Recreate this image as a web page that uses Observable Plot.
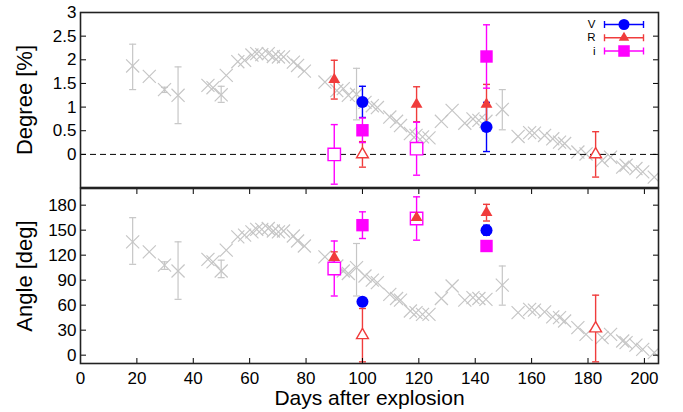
<!DOCTYPE html>
<html>
<head>
<meta charset="utf-8">
<script src="https://cdn.jsdelivr.net/npm/d3@7"></script>
<script src="https://cdn.jsdelivr.net/npm/@observablehq/plot@0.6"></script>
<style>
  body { margin: 0; background: #fff; }
  #chart { position: relative; width: 683px; height: 412px; background: #fff; }
  #chart svg { display: block; overflow: visible; }
  #legend { position: absolute; left: 580px; top: 15px; }
</style>
</head>
<body>
<div id="chart"><div id="legend"></div></div>
<script>
// ---------- data ----------
const grayDays   = [18.5, 24.4, 29.8, 34.6, 45.2, 47.0, 49.9, 51.7, 55.8, 58.2, 60.8, 62.5, 64.3, 66.6, 68.4, 70.2, 72.0, 75.5, 77.0, 79.4,
                    86.7, 90.9, 93.2, 95.0, 97.9, 100.9, 103.5, 105.3, 109.7, 112.1, 113.5, 117.0, 119.0, 121.3, 123.6, 128.0, 131.8,
                    136.3, 139.2, 141.3, 143.8, 149.6, 155.2, 159.3, 161.0, 164.6, 167.5, 169.9, 171.7, 176.4, 179.3, 185.0, 188.0,
                    192.3, 193.5, 197.0, 199.4, 203.5];
const grayDegree = [1.87, 1.65, 1.37, 1.25, 1.46, 1.41, 1.26, 1.67, 1.96, 1.99, 2.10, 2.13, 2.11, 2.13, 2.07, 2.06, 2.06, 1.95, 1.88, 1.76,
                    1.53, 1.35, 1.39, 1.25, 1.27, 1.10, 1.03, 0.99, 0.79, 0.70, 0.61, 0.44, 0.40, 0.37, 0.35, 0.70, 0.93,
                    0.66, 0.75, 0.72, 0.70, 0.95, 0.38, 0.46, 0.45, 0.40, 0.33, 0.26, 0.23, 0.05, 0.01, -0.13, -0.06,
                    -0.27, -0.23, -0.30, -0.37, -0.48];
const grayAngle  = [136, 124, 108, 101, 115, 112, 101, 126, 142, 144, 148, 151, 151, 152, 149, 148, 149, 143, 137, 131,
                    118, 107, 101, 98, 105, 95, 90, 87, 73, 68, 66, 53, 51, 49, 49, 68, 83,
                    66, 69, 68, 67, 84, 51, 55, 54, 52, 46, 45, 41, 33, 25, 21, 25,
                    17, 15, 12, 7, 3];

const grayErrDays      = [18.5, 29.8, 34.6, 49.9, 97.9, 149.6];
const grayErrDegLow    = [1.37, 1.31, 0.65, 1.10, 0.73, 0.52];
const grayErrDegHigh   = [2.33, 1.42, 1.85, 1.44, 1.82, 1.37];
const grayErrAngLow    = [109, 103, 67, 93, 71, 60];
const grayErrAngHigh   = [165, 112, 136, 114, 134, 107];

// filled symbols
const vDays = [100, 144],        vDegree = [1.11, 0.58],       vDegreeErr = [0.33, 0.52],       vAngle = [64, 150],       vAngleErr = [5, 6];
const rDays = [90, 119.2, 144],  rDegree = [1.58, 1.06, 1.06], rDegreeErr = [0.41, 0.37, 0.42], rAngle = [117, 165, 171], rAngleErr = [7, 5, 10];
const iDays = [100, 144],        iDegree = [0.51, 2.07],       iDegreeErr = [0.26, 0.67],       iAngle = [156, 131],      iAngleErr = [16, 4];
// open symbols
const rOpenDays = [100, 182.7],  rOpenDegree = [0, 0],         rOpenDegreeErr = [0.27, 0.48],   rOpenAngle = [24, 32],    rOpenAngleErr = [32, 40];
const iOpenDays = [90, 119.2],   iOpenDegree = [0, 0.12],      iOpenDegreeErr = [0.63, 0.56],   iOpenAngle = [104, 164],  iOpenAngleErr = [33, 26];

const bands = ["V", "R", "i"];
const degreeTicks = [0, 0.5, 1, 1.5, 2, 2.5, 3];
const angleTicks = [0, 30, 60, 90, 120, 150, 180];
const dayTicks = [0, 20, 40, 60, 80, 100, 120, 140, 160, 180, 200];

// ---------- styling ----------
const GRAY = "#c6c6c6";
const COLORS = {V: "#0000ff", R: "#f03c3c", i: "#ff00ff"};
const SYMBOLS = {V: "circle", R: "triangle", i: "square"};
const RADII = {V: 6, R: 4.4, i: 7};
const FONT = "'Liberation Sans', Arial, Helvetica, sans-serif";

const capH = {draw(ctx) { ctx.moveTo(-3.5, 0); ctx.lineTo(3.5, 0); }};
const capV = {draw(ctx) { ctx.moveTo(0, -3.5); ctx.lineTo(0, 3.5); }};

function series(band, filled, days, deg, degErr, ang, angErr) {
  return days.map((d, k) => ({band, filled, day: d, deg: deg[k], degErr: degErr[k], ang: ang[k], angErr: angErr[k]}));
}
const points = [
  ...series("V", true, vDays, vDegree, vDegreeErr, vAngle, vAngleErr),
  ...series("R", true, rDays, rDegree, rDegreeErr, rAngle, rAngleErr),
  ...series("i", true, iDays, iDegree, iDegreeErr, iAngle, iAngleErr),
  ...series("R", false, rOpenDays, rOpenDegree, rOpenDegreeErr, rOpenAngle, rOpenAngleErr),
  ...series("i", false, iOpenDays, iOpenDegree, iOpenDegreeErr, iOpenAngle, iOpenAngleErr)
];

function panel(o) {
  const gray = grayDays.map((d, k) => ({day: d, v: o.grayY[k]}));
  const grayErr = grayErrDays.map((d, k) => ({day: d, lo: o.errLo[k], hi: o.errHi[k]}));
  const pts = points.map(p => ({...p, v: p[o.key], lo: p[o.key] - p[o.errKey], hi: p[o.key] + p[o.errKey]}));
  const marks = [];
  marks.push(Plot.ruleX(grayErr, {x: "day", y1: "lo", y2: "hi", stroke: GRAY, strokeWidth: 1.2, clip: true}));
  marks.push(Plot.dot(grayErr, {x: "day", y: "lo", symbol: capH, stroke: GRAY, strokeWidth: 1.2, clip: true}));
  marks.push(Plot.dot(grayErr, {x: "day", y: "hi", symbol: capH, stroke: GRAY, strokeWidth: 1.2, clip: true}));
  marks.push(Plot.dot(gray, {x: "day", y: "v", symbol: "times", r: 6, stroke: GRAY, strokeWidth: 1.2, clip: true}));
  if (o.dashed) marks.push(Plot.ruleY([0], {stroke: "#000", strokeWidth: 1, strokeDasharray: "6,4"}));
  for (const b of bands) {
    const sub = pts.filter(p => p.band === b);
    marks.push(Plot.ruleX(sub, {x: "day", y1: "lo", y2: "hi", stroke: COLORS[b], strokeWidth: 1.4, clip: true}));
    marks.push(Plot.dot(sub, {x: "day", y: "lo", symbol: capH, stroke: COLORS[b], strokeWidth: 1.4, clip: true}));
    marks.push(Plot.dot(sub, {x: "day", y: "hi", symbol: capH, stroke: COLORS[b], strokeWidth: 1.4, clip: true}));
  }
  // open markers first, filled markers on top
  for (const b of bands) {
    const sub = pts.filter(p => p.band === b && !p.filled);
    marks.push(Plot.dot(sub, {x: "day", y: "v", symbol: SYMBOLS[b], r: RADII[b], fill: "white", stroke: COLORS[b], strokeWidth: 1.4, clip: true}));
  }
  for (const b of bands) {
    const sub = pts.filter(p => p.band === b && p.filled);
    marks.push(Plot.dot(sub, {x: "day", y: "v", symbol: SYMBOLS[b], r: RADII[b], fill: COLORS[b], stroke: "none", clip: true}));
  }
  // y axis: labels outside, ticks inward on both sides
  marks.push(Plot.axisY({ticks: o.ticks, tickFormat: d => String(d), tickSize: 0, tickPadding: 4, fontSize: 17, label: null}));
  marks.push(Plot.axisY({ticks: o.ticks, tickFormat: () => "", tickSize: -6, label: null}));
  marks.push(Plot.axisY({anchor: "right", ticks: o.ticks, tickFormat: () => "", tickSize: -6, label: null}));
  if (o.xAxis) {
    marks.push(Plot.axisX({ticks: dayTicks, tickFormat: d => String(d), tickSize: 0, tickPadding: 8, fontSize: 17, label: null}));
    marks.push(Plot.axisX({ticks: dayTicks, tickFormat: () => "", tickSize: -5, label: null}));
    marks.push(Plot.axisX({anchor: "top", ticks: dayTicks, tickFormat: () => "", tickSize: -5, label: null}));
    marks.push(Plot.text(["Days after explosion"], {frameAnchor: "bottom", dy: 35, fontSize: 21, lineAnchor: "middle", textAnchor: "middle", text: d => d}));
  }
  marks.push(Plot.text([o.label], {frameAnchor: "left", dx: -56, rotate: -90, fontSize: 22, lineAnchor: "middle", textAnchor: "middle", text: d => d}));
  marks.push(Plot.frame({stroke: "#222", strokeWidth: 1.6}));
  return Plot.plot({
    width: 683, height: o.height,
    marginLeft: 80, marginRight: 25, marginTop: o.marginTop, marginBottom: o.marginBottom,
    x: {domain: [0, 205], axis: o.xAxis ? undefined : null},
    y: {domain: o.domain},
    style: {fontFamily: FONT, color: "#000", background: "white", overflow: "visible"},
    marks
  });
}

const topPanel = panel({key: "deg", errKey: "degErr", grayY: grayDegree, errLo: grayErrDegLow, errHi: grayErrDegHigh,
  domain: [-0.7, 3], ticks: degreeTicks, label: "Degree [%]", height: 188, marginTop: 12, marginBottom: 1, dashed: true, xAxis: false});
const bottomPanel = panel({key: "ang", errKey: "angErr", grayY: grayAngle, errLo: grayErrAngLow, errHi: grayErrAngHigh,
  domain: [-10, 200], ticks: angleTicks, label: "Angle [deg]", height: 224, marginTop: 0, marginBottom: 49, dashed: false, xAxis: true});

const chartDiv = document.getElementById("chart");
const legendDiv = document.getElementById("legend");
chartDiv.insertBefore(topPanel, legendDiv);
chartDiv.insertBefore(bottomPanel, legendDiv);

// ---------- legend ----------
const legendRows = bands.map((b, k) => ({band: b, row: k}));
const legendPlot = Plot.plot({
  width: 80, height: 46, margin: 0,
  x: {domain: [0, 1], range: [24, 63], axis: null},
  y: {domain: [0, 2], range: [9, 35.5], axis: null},
  style: {fontFamily: FONT, color: "#000", background: "transparent", overflow: "visible"},
  marks: [
    ...legendRows.map(d => Plot.ruleY([d], {y: "row", x1: 0, x2: 1, stroke: COLORS[d.band], strokeWidth: 1.4})),
    ...legendRows.map(d => Plot.dot([d], {y: "row", x: 0, symbol: capV, stroke: COLORS[d.band], strokeWidth: 1.4})),
    ...legendRows.map(d => Plot.dot([d], {y: "row", x: 1, symbol: capV, stroke: COLORS[d.band], strokeWidth: 1.4})),
    ...legendRows.map(d => Plot.dot([d], {y: "row", x: 0.5, symbol: SYMBOLS[d.band], r: RADII[d.band] - 0.5, fill: COLORS[d.band], stroke: "none"})),
    Plot.text(legendRows, {y: "row", x: 0, dx: -9, text: "band", textAnchor: "end", lineAnchor: "middle", fontSize: 11.5})
  ]
});
legendDiv.appendChild(legendPlot);
</script>
</body>
</html>
